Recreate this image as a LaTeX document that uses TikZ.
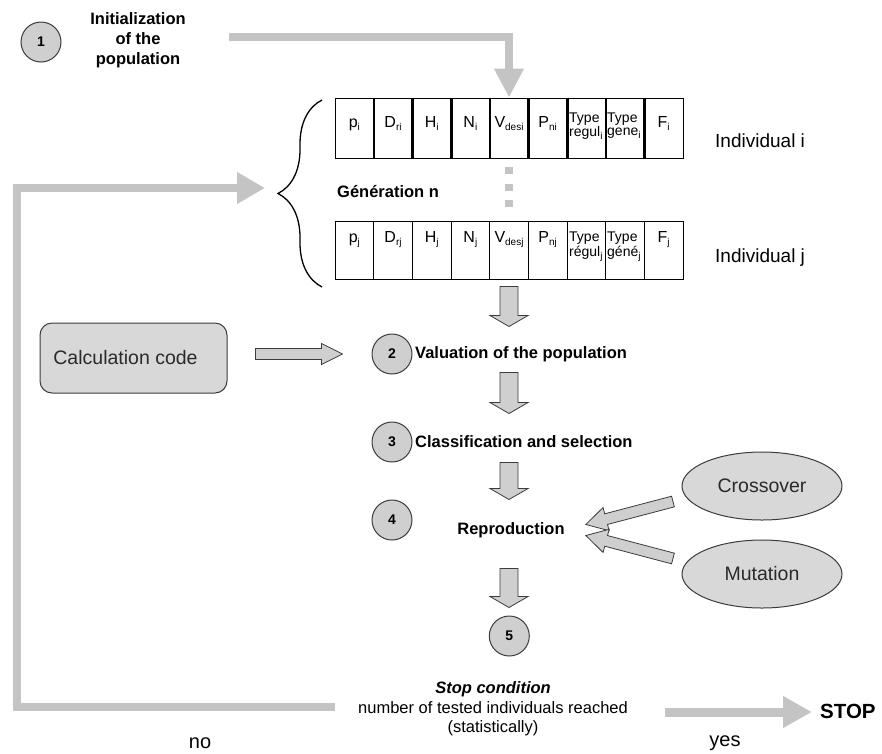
\documentclass[tikz,border=0pt]{standalone}
\usepackage{fontspec}
\setmainfont{Liberation Sans}
\usetikzlibrary{arrows.meta,calc,decorations.pathreplacing,shapes.geometric}
\definecolor{connc}{HTML}{C4C4C4}
\definecolor{fillg}{HTML}{CFCFCF}
\definecolor{boxg}{HTML}{D8D8D8}
\definecolor{edge}{HTML}{3C3C3C}
\definecolor{txtg}{HTML}{2A2A2A}
\newcommand\sz[2]{\fontsize{#1}{#2}\selectfont}
\newcommand\sbs[1]{\raisebox{-3pt}{\sz{10}{10}#1}}
\newcommand\blockarrow[7]{%
  \draw[blockarr] let \p1=#1, \p2=#2, \n1={atan2(\y2-\y1,\x2-\x1)}, \n2={veclen(\x2-\x1,\y2-\y1)} in
  [shift={(\p1)}, rotate=\n1]
  (#3,-#5) -- ({\n2-#4-#7},-#5) -- ({\n2-#4-#7},-#6) -- ({\n2-#4},0) -- ({\n2-#4-#7},#6) -- ({\n2-#4-#7},#5) -- (#3,#5) -- cycle;}
\begin{document}
\begin{tikzpicture}[x=1pt,y=-1pt,
  conn/.style={draw=connc, line width=8pt},
  blockarr/.style={draw=edge, fill=fillg, line width=0.8pt, line join=miter},
  numc/.style={circle, draw=edge, fill=fillg, line width=1pt, minimum size=40pt, inner sep=0pt, font=\sz{14}{14}\bfseries},
  cellbox/.style={draw=black, line width=0.9pt, minimum width=38.667pt, inner sep=0pt},
  cl/.style={inner sep=0pt, anchor=base, font=\sz{16}{16}},
  typel/.style={inner sep=0pt, anchor=north west, align=left, font=\sz{14}{13}},
  lbl/.style={inner sep=0pt, font=\sz{16.5}{20}\bfseries},
  ind/.style={inner sep=0pt, anchor=west, font=\sz{19}{19}},
  calcbox/.style={draw=edge, fill=boxg, line width=1pt, rounded corners=12pt, minimum width=187pt, minimum height=70pt, text=txtg, font=\sz{19.5}{19.5}},
  ellip/.style={ellipse, draw=edge, fill=boxg, line width=1pt, minimum width=160pt, minimum height=68pt, inner sep=0pt, text=txtg, font=\sz{19.5}{19.5}}
]
\useasboundingbox (0,0) rectangle (882,753);
\fill[white] (0,0) rectangle (882,753);

% step 1
\node[numc] (c1) at (41,42) {1};
\node[lbl, align=center] (init) at (138,40) {Initialization\\of the\\population};
\coordinate (initout) at (229,37);

% individual rows
\foreach \k in {1,...,9} {
  \node[cellbox, minimum height=60pt] (a\k) at ({335+38.667*(\k-0.5)},128) {};
  \node[cellbox, minimum height=58pt] (b\k) at ({335+38.667*(\k-0.5)},250) {};
}
\foreach \k in {2,...,9} {
  \draw[line width=2.4pt] ([xshift=0.8pt]a\k.north west) -- ([xshift=0.8pt]a\k.south west);
}
\foreach \k/\t in {1/{p\sbs{i}},2/{D\sbs{ri}},3/{H\sbs{i}},4/{N\sbs{i}},5/{V\sbs{desi}},6/{P\sbs{ni}},9/{F\sbs{i}}} {
  \node[cl] (la\k) at ({335+38.667*(\k-0.5)},127) {\t};
}
\foreach \k/\t in {1/{p\sbs{j}},2/{D\sbs{rj}},3/{H\sbs{j}},4/{N\sbs{j}},5/{V\sbs{desj}},6/{P\sbs{nj}},9/{F\sbs{j}}} {
  \node[cl] (lb\k) at ({335+38.667*(\k-0.5)},242) {\t};
}
\node[typel] (la7) at (569,113) {Type\\regul\sbs{i}};
\node[typel] (la8) at (607,113) {Type\\gene\sbs{i}};
\node[typel] (lb7) at (569,232) {Type\\régul\sbs{j}};
\node[typel] (lb8) at (607,232) {Type\\géné\sbs{j}};

\draw[conn, -{Triangle[length=29pt,width=28pt]}] (initout) -| (a5.north);

% generation
\node[lbl, anchor=west] (gen) at (337,192) {Génération n};
\draw[draw=connc, line width=8pt, dash pattern=on 7pt off 9.5pt, shorten <=9pt, shorten >=14pt] (a5.south) -- (b5.north);
\draw[decorate, decoration={brace, amplitude=44pt}, line width=1.3pt] (322,287) -- (322,100);
\node[ind] (indi) at (715,141) {Individual i};
\node[ind] (indj) at (715,258) {Individual j};

% steps
\node[calcbox] (calc) at (133.5,358) {\hspace*{-16pt}Calculation code};
\node[numc] (c2) at (392,354) {2};
\node[lbl, anchor=west] (val) at (415,354) {Valuation of the population};
\node[numc] (c3) at (392,442) {3};
\node[lbl, anchor=west] (cls) at (415,442) {Classification and selection};
\node[numc] (c4) at (392,520) {4};
\node[lbl] (repro) at (511,530) {Reproduction};
\node[numc] (c5) at (509.3,636) {5};
\node[ellip] (cross) at (762,486) {Crossover};
\node[ellip] (mut) at (762,574) {Mutation};

\blockarrow{(b5.south)}{(b5.south |- c2.north)}{7}{7}{9}{19}{11}
\blockarrow{(b5.south |- c2.south)}{(b5.south |- c3.north)}{-2}{8}{9}{19}{11}
\blockarrow{(b5.south |- c3.south)}{(b5.south |- c4.north)}{0}{0}{9}{19}{11}
\blockarrow{(b5.south |- c4.south)}{(b5.south |- c5.north)}{28}{8}{9}{19}{11}
\blockarrow{(calc.east |- c2.west)}{(c2.west)}{28}{29}{5.5}{10.5}{21}
\blockarrow{(cross.189)}{(repro.east)}{14}{21.7}{5.5}{12}{21}
\blockarrow{(mut.171)}{(repro.east)}{14}{21.7}{5.5}{12}{21}

% stop condition
\node[align=center, inner sep=0pt, font=\sz{16.5}{19.5}] (stopc) at (493,709) {\textbf{\textit{Stop condition}}\\number of tested individuals reached\\(statistically)};
\coordinate (noend) at (335,707);
\coordinate (lc) at (17,188);
\coordinate (gentip) at (265,188);
\draw[conn, -{Triangle[length=28pt,width=30pt]}] (noend) -| (lc) -- (gentip);

\node[inner sep=0pt, anchor=west, font=\sz{20.5}{20.5}\bfseries] (stop) at (820,711) {STOP};
\coordinate (yesst) at (665,712);
\draw[conn, line width=9pt, shorten >=8pt, -{Triangle[length=29pt,width=30pt]}] (yesst) -- (yesst -| stop.west);

\node[inner sep=0pt, anchor=base, font=\sz{20}{20}] (no) at (200,748) {no};
\node[inner sep=0pt, anchor=base, font=\sz{20}{20}] (yes) at (725,746) {yes};
\end{tikzpicture}
\end{document}
